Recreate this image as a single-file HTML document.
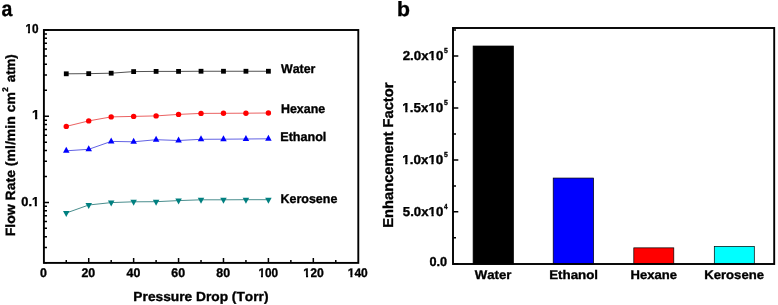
<!DOCTYPE html>
<html><head><meta charset="utf-8"><style>
html,body{margin:0;padding:0;background:#fff;}
body{width:778px;height:305px;overflow:hidden;}
svg{display:block;}
text{font-family:'Liberation Sans',Arial,sans-serif;font-weight:bold;font-kerning:none;text-rendering:geometricPrecision;stroke:#000;stroke-width:0.35px;}
</style></head><body>
<svg width="778" height="305" viewBox="0 0 778 305">
<rect width="778" height="305" fill="#fff"/>
<text x="1.53" y="16.00" font-size="21.5" textLength="10.85" lengthAdjust="spacingAndGlyphs" fill="#000">a</text>
<rect x="43.9" y="30.0" width="314.40" height="232.90" fill="none" stroke="#000" stroke-width="1.9"/>
<path d="M43.90,262.65H47.00M43.90,247.47H47.00M43.90,236.70H47.00M43.90,228.35H47.00M43.90,221.52H47.00M43.90,215.75H47.00M43.90,210.75H47.00M43.90,206.34H47.00M43.90,202.40H49.00M43.90,176.45H47.00M43.90,161.27H47.00M43.90,150.50H47.00M43.90,142.15H47.00M43.90,135.32H47.00M43.90,129.55H47.00M43.90,124.55H47.00M43.90,120.14H47.00M43.90,116.20H49.00M43.90,90.25H47.00M43.90,75.07H47.00M43.90,64.30H47.00M43.90,55.95H47.00M43.90,49.12H47.00M43.90,43.35H47.00M43.90,38.35H47.00M43.90,33.94H47.00M43.90,30.00H49.0M66.26,262.90V260.00M88.72,262.90V258.00M111.18,262.90V260.00M133.64,262.90V258.00M156.10,262.90V260.00M178.56,262.90V258.00M201.02,262.90V260.00M223.48,262.90V258.00M245.94,262.90V260.00M268.40,262.90V258.00M290.86,262.90V260.00M313.32,262.90V258.00M335.78,262.90V260.00" stroke="#000" stroke-width="1.5" fill="none"/>
<text x="25.40" y="32.70" font-size="13" textLength="13.09" lengthAdjust="spacingAndGlyphs" fill="#000">10</text>
<text x="32.07" y="119.00" font-size="13" textLength="7.54" lengthAdjust="spacingAndGlyphs" fill="#000">1</text>
<text x="21.29" y="205.70" font-size="13" textLength="17.78" lengthAdjust="spacingAndGlyphs" fill="#000">0.1</text>
<text x="39.97" y="277.00" font-size="12.5" textLength="6.88" lengthAdjust="spacingAndGlyphs" fill="#000">0</text>
<text x="81.48" y="277.00" font-size="12.5" textLength="13.76" lengthAdjust="spacingAndGlyphs" fill="#000">20</text>
<text x="126.52" y="277.00" font-size="12.5" textLength="13.76" lengthAdjust="spacingAndGlyphs" fill="#000">40</text>
<text x="171.30" y="277.00" font-size="12.5" textLength="13.76" lengthAdjust="spacingAndGlyphs" fill="#000">60</text>
<text x="216.26" y="277.00" font-size="12.5" textLength="13.76" lengthAdjust="spacingAndGlyphs" fill="#000">80</text>
<text x="258.39" y="277.00" font-size="12.5" textLength="19.69" lengthAdjust="spacingAndGlyphs" fill="#000">100</text>
<text x="303.37" y="277.00" font-size="12.5" textLength="20.33" lengthAdjust="spacingAndGlyphs" fill="#000">120</text>
<text x="347.78" y="277.00" font-size="12.5" textLength="20.01" lengthAdjust="spacingAndGlyphs" fill="#000">140</text>
<text x="133.38" y="300.80" font-size="13.2" textLength="135.10" lengthAdjust="spacingAndGlyphs" fill="#000">Pressure Drop (Torr)</text>
<text transform="translate(15.20,236.34) rotate(-90)" x="0" y="0" font-size="13.4" textLength="144.31" lengthAdjust="spacingAndGlyphs" fill="#000">Flow Rate (ml/min cm</text>
<text transform="translate(8.00,91.78) rotate(-90)" x="0" y="0" font-size="8.3" textLength="4.51" lengthAdjust="spacingAndGlyphs" fill="#000">2</text>
<text transform="translate(15.20,82.19) rotate(-90)" x="0" y="0" font-size="13.4" textLength="27.95" lengthAdjust="spacingAndGlyphs" fill="#000">atm)</text>
<polyline points="66.26,73.80 88.72,73.65 111.18,73.20 133.64,71.60 156.10,71.40 178.56,71.40 201.02,71.25 223.48,71.25 245.94,71.25 268.40,71.25" fill="none" stroke="#333" stroke-width="0.85"/>
<polyline points="66.26,126.40 88.72,120.90 111.18,116.90 133.64,116.40 156.10,115.90 178.56,114.40 201.02,113.40 223.48,113.30 245.94,113.20 268.40,113.00" fill="none" stroke="#e85050" stroke-width="0.9"/>
<polyline points="66.26,150.80 88.72,149.30 111.18,141.40 133.64,141.80 156.10,139.70 178.56,140.50 201.02,139.30 223.48,139.20 245.94,139.00 268.40,138.80" fill="none" stroke="#5050e0" stroke-width="0.9"/>
<polyline points="66.26,213.00 88.72,205.00 111.18,202.60 133.64,201.80 156.10,201.70 178.56,200.60 201.02,199.80 223.48,199.80 245.94,199.70 268.40,199.70" fill="none" stroke="#4a8e8e" stroke-width="1.0"/>
<rect x="63.86" y="71.40" width="4.8" height="4.8" fill="#000"/>
<rect x="86.32" y="71.25" width="4.8" height="4.8" fill="#000"/>
<rect x="108.78" y="70.80" width="4.8" height="4.8" fill="#000"/>
<rect x="131.24" y="69.20" width="4.8" height="4.8" fill="#000"/>
<rect x="153.70" y="69.00" width="4.8" height="4.8" fill="#000"/>
<rect x="176.16" y="69.00" width="4.8" height="4.8" fill="#000"/>
<rect x="198.62" y="68.85" width="4.8" height="4.8" fill="#000"/>
<rect x="221.08" y="68.85" width="4.8" height="4.8" fill="#000"/>
<rect x="243.54" y="68.85" width="4.8" height="4.8" fill="#000"/>
<rect x="266.00" y="68.85" width="4.8" height="4.8" fill="#000"/>
<circle cx="66.26" cy="126.40" r="2.7" fill="#f00"/>
<circle cx="88.72" cy="120.90" r="2.7" fill="#f00"/>
<circle cx="111.18" cy="116.90" r="2.7" fill="#f00"/>
<circle cx="133.64" cy="116.40" r="2.7" fill="#f00"/>
<circle cx="156.10" cy="115.90" r="2.7" fill="#f00"/>
<circle cx="178.56" cy="114.40" r="2.7" fill="#f00"/>
<circle cx="201.02" cy="113.40" r="2.7" fill="#f00"/>
<circle cx="223.48" cy="113.30" r="2.7" fill="#f00"/>
<circle cx="245.94" cy="113.20" r="2.7" fill="#f00"/>
<circle cx="268.40" cy="113.00" r="2.7" fill="#f00"/>
<path d="M66.26,146.80L69.51,152.80L63.01,152.80Z" fill="#00f"/>
<path d="M88.72,145.30L91.97,151.30L85.47,151.30Z" fill="#00f"/>
<path d="M111.18,137.40L114.43,143.40L107.93,143.40Z" fill="#00f"/>
<path d="M133.64,137.80L136.89,143.80L130.39,143.80Z" fill="#00f"/>
<path d="M156.10,135.70L159.35,141.70L152.85,141.70Z" fill="#00f"/>
<path d="M178.56,136.50L181.81,142.50L175.31,142.50Z" fill="#00f"/>
<path d="M201.02,135.30L204.27,141.30L197.77,141.30Z" fill="#00f"/>
<path d="M223.48,135.20L226.73,141.20L220.23,141.20Z" fill="#00f"/>
<path d="M245.94,135.00L249.19,141.00L242.69,141.00Z" fill="#00f"/>
<path d="M268.40,134.80L271.65,140.80L265.15,140.80Z" fill="#00f"/>
<path d="M66.26,217.00L69.51,211.00L63.01,211.00Z" fill="#008080"/>
<path d="M88.72,209.00L91.97,203.00L85.47,203.00Z" fill="#008080"/>
<path d="M111.18,206.60L114.43,200.60L107.93,200.60Z" fill="#008080"/>
<path d="M133.64,205.80L136.89,199.80L130.39,199.80Z" fill="#008080"/>
<path d="M156.10,205.70L159.35,199.70L152.85,199.70Z" fill="#008080"/>
<path d="M178.56,204.60L181.81,198.60L175.31,198.60Z" fill="#008080"/>
<path d="M201.02,203.80L204.27,197.80L197.77,197.80Z" fill="#008080"/>
<path d="M223.48,203.80L226.73,197.80L220.23,197.80Z" fill="#008080"/>
<path d="M245.94,203.70L249.19,197.70L242.69,197.70Z" fill="#008080"/>
<path d="M268.40,203.70L271.65,197.70L265.15,197.70Z" fill="#008080"/>
<text x="280.99" y="72.60" font-size="12.6" textLength="34.40" lengthAdjust="spacingAndGlyphs" fill="#000">Water</text>
<text x="280.97" y="113.20" font-size="12.6" textLength="44.15" lengthAdjust="spacingAndGlyphs" fill="#000">Hexane</text>
<text x="280.26" y="141.30" font-size="12.6" textLength="46.13" lengthAdjust="spacingAndGlyphs" fill="#000">Ethanol</text>
<text x="280.47" y="202.80" font-size="12.6" textLength="56.86" lengthAdjust="spacingAndGlyphs" fill="#000">Kerosene</text>
<text x="396.90" y="16.30" font-size="20.6" textLength="12.97" lengthAdjust="spacingAndGlyphs" fill="#000">b</text>
<rect x="473.10" y="46.00" width="40.40" height="218.00" fill="#000" stroke="#000" stroke-width="0.7"/>
<rect x="553.20" y="178.05" width="40.40" height="85.95" fill="#00f" stroke="#000" stroke-width="0.7"/>
<rect x="633.80" y="247.85" width="40.00" height="16.15" fill="#f00" stroke="#000" stroke-width="0.7"/>
<rect x="714.30" y="246.35" width="40.00" height="17.65" fill="#0ff" stroke="#000" stroke-width="0.7"/>
<rect x="453.0" y="28.0" width="321.20" height="236.00" fill="none" stroke="#000" stroke-width="1.9"/>
<path d="M453.00,263.80H458.30M453.00,237.83H456.00M453.00,211.85H458.30M453.00,185.88H456.00M453.00,159.90H458.30M453.00,133.93H456.00M453.00,107.95H458.30M453.00,81.98H456.00M453.00,56.00H458.30M453.00,30.03H456.00" stroke="#000" stroke-width="1.5" fill="none"/>
<text x="402.74" y="60.30" font-size="13" textLength="40.60" lengthAdjust="spacingAndGlyphs" fill="#000">2.0x10</text>
<text x="443.99" y="53.20" font-size="7.3" textLength="3.80" lengthAdjust="spacingAndGlyphs" fill="#000" stroke="#000" stroke-width="0.2">5</text>
<text x="402.28" y="112.45" font-size="13" textLength="41.07" lengthAdjust="spacingAndGlyphs" fill="#000">1.5x10</text>
<text x="443.99" y="105.35" font-size="7.3" textLength="3.80" lengthAdjust="spacingAndGlyphs" fill="#000" stroke="#000" stroke-width="0.2">5</text>
<text x="402.28" y="164.40" font-size="13" textLength="41.07" lengthAdjust="spacingAndGlyphs" fill="#000">1.0x10</text>
<text x="443.99" y="157.30" font-size="7.3" textLength="3.80" lengthAdjust="spacingAndGlyphs" fill="#000" stroke="#000" stroke-width="0.2">5</text>
<text x="402.79" y="216.25" font-size="13" textLength="40.55" lengthAdjust="spacingAndGlyphs" fill="#000">5.0x10</text>
<text x="444.10" y="209.15" font-size="7.3" textLength="3.53" lengthAdjust="spacingAndGlyphs" fill="#000" stroke="#000" stroke-width="0.2">4</text>
<text x="429.40" y="265.60" font-size="13" textLength="17.62" lengthAdjust="spacingAndGlyphs" fill="#000">0.0</text>
<text transform="translate(393.10,227.68) rotate(-90)" x="0" y="0" font-size="14.3" textLength="145.10" lengthAdjust="spacingAndGlyphs" fill="#000">Enhancement Factor</text>
<text x="474.79" y="279.00" font-size="12.4" textLength="36.61" lengthAdjust="spacingAndGlyphs" fill="#000">Water</text>
<text x="549.21" y="279.00" font-size="12.4" textLength="48.83" lengthAdjust="spacingAndGlyphs" fill="#000">Ethanol</text>
<text x="630.63" y="279.00" font-size="12.4" textLength="46.42" lengthAdjust="spacingAndGlyphs" fill="#000">Hexane</text>
<text x="704.32" y="279.00" font-size="12.4" textLength="59.62" lengthAdjust="spacingAndGlyphs" fill="#000">Kerosene</text>
<g fill="#fff"><rect x="25.00" y="31.00" width="2.94" height="3.00"/><rect x="29.96" y="31.00" width="2.04" height="3.00"/><rect x="32.00" y="117.00" width="3.04" height="3.00"/><rect x="37.30" y="117.00" width="2.70" height="3.00"/><rect x="32.00" y="204.00" width="2.75" height="3.00"/><rect x="36.90" y="204.00" width="3.10" height="3.00"/><rect x="258.00" y="275.00" width="2.95" height="3.00"/><rect x="262.97" y="275.00" width="2.03" height="3.00"/><rect x="303.00" y="275.00" width="3.01" height="3.00"/><rect x="308.08" y="275.00" width="2.92" height="3.00"/><rect x="348.00" y="275.00" width="2.38" height="3.00"/><rect x="352.43" y="275.00" width="2.57" height="3.00"/><rect x="429.00" y="58.00" width="2.48" height="3.00"/><rect x="433.70" y="58.00" width="2.30" height="3.00"/><rect x="402.00" y="110.00" width="3.22" height="4.00"/><rect x="407.46" y="110.00" width="2.54" height="4.00"/><rect x="428.00" y="110.00" width="3.35" height="4.00"/><rect x="433.59" y="110.00" width="2.41" height="4.00"/><rect x="402.00" y="162.00" width="3.22" height="3.00"/><rect x="407.46" y="162.00" width="2.54" height="3.00"/><rect x="428.00" y="162.00" width="3.35" height="3.00"/><rect x="433.59" y="162.00" width="2.41" height="3.00"/><rect x="429.00" y="214.00" width="2.49" height="3.00"/><rect x="433.71" y="214.00" width="2.29" height="3.00"/></g>
</svg>
</body></html>
